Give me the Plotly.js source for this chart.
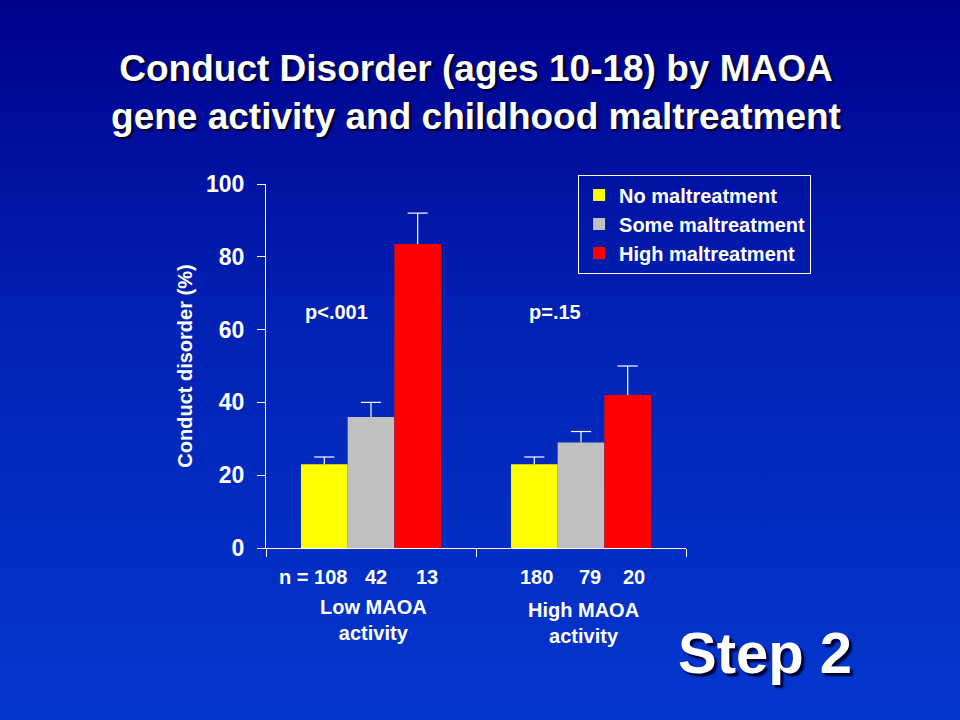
<!DOCTYPE html>
<html>
<head>
<meta charset="utf-8">
<script src="https://cdn.plot.ly/plotly-3.0.1.min.js"></script>
<style>
  html, body { margin: 0; padding: 0; }
  body { width: 960px; height: 720px; background: linear-gradient(to bottom, #00008e 0%, #0222b4 45%, #0437cf 100%); overflow: hidden; }
  #chart { width: 960px; height: 720px; }
</style>
</head>
<body>
<div id="chart"></div>
<script>
// ---- data ----
var groups = ['Low MAOA activity', 'High MAOA activity'];
var seriesNames = ['No maltreatment', 'Some maltreatment', 'High maltreatment'];
var noMal = [23, 23];
var someMal = [36, 29];
var highMal = [83.5, 42];
var noErr = [2, 2];
var someErr = [4, 3];
var highErr = [8.5, 8];
var nLabels = ['n = 108', '42', '13', '180', '79', '20'];
var groupLabels = ['Low MAOA<br>activity', 'High MAOA<br>activity'];
var pLabels = ['p<.001', 'p=.15'];
var yTicks = [0, 20, 40, 60, 80, 100];

var colors = ['#ffff00', '#c0c0c0', '#ff0000'];
var values = [noMal, someMal, highMal];
var errs = [noErr, someErr, highErr];

var FONT = 'Arial, "Liberation Sans", sans-serif';
var white = '#ffffff';
var BARGAP = 0.333;

var traces = values.map(function (v, i) {
  return {
    type: 'bar',
    name: seriesNames[i],
    x: groups,
    y: v,
    marker: { color: colors[i], line: { width: 0 } },
    legendgroup: 'g' + i,
    hoverinfo: 'skip'
  };
});

// upper-only error bars, drawn as line segments on an overlaid numeric axis
var barW = (1 - BARGAP) / values.length;
var capHalf = 0.048;
var ex = [], ey = [];
values.forEach(function (v, i) {
  v.forEach(function (val, g) {
    var cx = g + (i - (values.length - 1) / 2) * barW;
    var top = val + errs[i][g];
    ex.push(cx, cx, null, cx - capHalf, cx + capHalf, null);
    ey.push(val, top, null, top, top, null);
  });
});
traces.push({
  type: 'scatter', mode: 'lines', x: ex, y: ey, xaxis: 'x2', yaxis: 'y',
  line: { color: white, width: 1.2 }, showlegend: false, hoverinfo: 'skip', connectgaps: false
});

var annotations = [];
var pX = [0.167, 0.688];
pLabels.forEach(function (t, i) {
  annotations.push({ text: t, xref: 'paper', yref: 'y', x: pX[i], y: 64.8, xanchor: 'center', yanchor: 'middle',
    showarrow: false, font: { family: FONT, size: 20, color: white, weight: 700 } });
});
var nX = [0.112, 0.262, 0.383, 0.645, 0.771, 0.876];
nLabels.forEach(function (t, i) {
  annotations.push({ text: t, xref: 'paper', yref: 'paper', x: nX[i], y: -0.080, xanchor: 'center', yanchor: 'middle',
    showarrow: false, font: { family: FONT, size: 20, color: white, weight: 700 } });
});
var gX = [0.255, 0.755];
var gY = [-0.199, -0.205];
groupLabels.forEach(function (t, i) {
  annotations.push({ text: t, xref: 'paper', yref: 'paper', x: gX[i], y: gY[i], xanchor: 'center', yanchor: 'middle',
    showarrow: false, font: { family: FONT, size: 20, color: white, weight: 700 } });
});
annotations.push({ text: 'Step 2', xref: 'paper', yref: 'paper', x: 1.188, y: -0.286, xanchor: 'center', yanchor: 'middle',
  showarrow: false, font: { family: FONT, size: 58, color: white, weight: 700, shadow: '3px 3px 2px #000033' } });

var layout = {
  width: 960, height: 720,
  paper_bgcolor: 'rgba(0,0,0,0)',
  plot_bgcolor: 'rgba(0,0,0,0)',
  margin: { l: 266, r: 274, t: 184, b: 172 },
  title: {
    text: 'Conduct Disorder (ages 10-18) by MAOA<br>gene activity and childhood maltreatment',
    x: 0.5, xref: 'paper', xanchor: 'center',
    y: 0.888, yref: 'container', yanchor: 'middle',
    font: { family: FONT, size: 37, color: white, weight: 700, shadow: '2px 2px 2px #000022' }
  },
  barmode: 'group',
  bargap: BARGAP,
  bargroupgap: 0,
  showlegend: true,
  legend: {
    x: 0.743, y: 1.026, xanchor: 'left', yanchor: 'top',
    bgcolor: 'rgba(0,0,0,0)', bordercolor: white, borderwidth: 1,
    font: { family: FONT, size: 20, color: white, weight: 700 },
    tracegroupgap: 5, traceorder: 'normal'
  },
  xaxis: {
    type: 'category', categoryorder: 'array', categoryarray: groups,
    range: [-0.5, 1.5],
    showticklabels: false, showgrid: false, zeroline: false,
    showline: true, linecolor: white, linewidth: 1,
    ticks: 'outside', tickson: 'boundaries', ticklen: 8, tickcolor: white, tickwidth: 1,
    fixedrange: true
  },
  xaxis2: {
    overlaying: 'x', range: [-0.5, 1.5], visible: false, fixedrange: true
  },
  yaxis: {
    range: [0, 100], tickvals: yTicks, ticktext: yTicks.map(String),
    showgrid: false, zeroline: false,
    showline: true, linecolor: white, linewidth: 1,
    ticks: 'outside', ticklen: 8, tickcolor: white, tickwidth: 1,
    ticklabelstandoff: 8,
    tickfont: { family: FONT, size: 23, color: white, weight: 700 },
    title: { text: 'Conduct disorder (%)', standoff: 8,
      font: { family: FONT, size: 20, color: white, weight: 700 } },
    fixedrange: true
  },
  annotations: annotations
};

Plotly.newPlot('chart', traces, layout, { displayModeBar: false, staticPlot: true });
</script>
</body>
</html>
